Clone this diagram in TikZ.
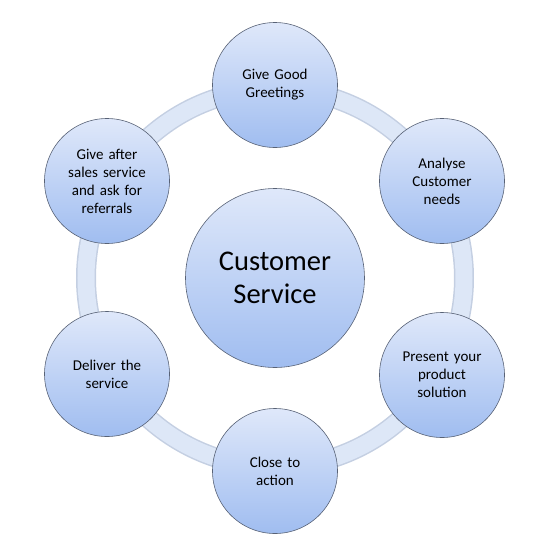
\documentclass[tikz,border=0pt]{standalone}
\usepackage{fontspec}
\setmainfont{Carlito}
\usepackage{xcolor}
\definecolor{ringblue}{RGB}{221,231,247}
\definecolor{ringedge}{RGB}{196,207,226}
\definecolor{topblue}{RGB}{223,232,250}
\definecolor{botblue}{RGB}{160,189,240}
\definecolor{edgegrey}{RGB}{88,98,118}

\begin{document}
\begin{tikzpicture}[x=1pt,y=-1pt]
        \tikzset{step node/.style={circle,draw=edgegrey,line width=0.6pt,
                top color=topblue,bottom color=botblue,
                minimum size=125pt,inner sep=0pt,text width=100pt,align=center,
                font=\fontsize{15}{18}\selectfont},
            hub node/.style={step node,minimum size=179pt,text width=150pt,
                font=\fontsize{28.5}{33}\selectfont},
            ring/.style={draw=ringedge,line width=20pt,
                postaction={draw=ringblue,line width=17pt}}}
        \useasboundingbox (0,0) rectangle (550,550);
        \draw[ring] (275,278) circle [radius=189pt];
        \node[hub node] (hub) at (275,278) {Customer\\Service};
        \node[step node] (greet) at (275,85) {Give Good\\Greetings};
        \node[step node] (needs) at (442,181) {Analyse\\Customer\\needs};
        \node[step node] (present) at (442,375) {Present your\\product\\solution};
        \node[step node] (close) at (275,471) {Close to\\action};
        \node[step node] (deliver) at (107,374) {Deliver the\\service};
        \node[step node] (after) at (107,181) {Give after\\sales service\\and ask for\\referrals};
    \end{tikzpicture}
\end{document}
